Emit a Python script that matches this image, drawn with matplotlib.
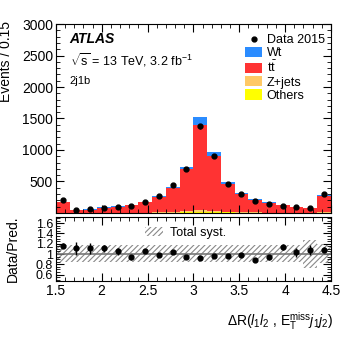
import numpy as np
import matplotlib
matplotlib.use("Agg")
import matplotlib.pyplot as plt
from matplotlib.ticker import MultipleLocator, FormatStrFormatter, FixedLocator
from matplotlib.patches import Patch
from matplotlib.lines import Line2D

plt.rcParams['font.family'] = ['Liberation Sans', 'DejaVu Sans']
plt.rcParams['mathtext.fontset'] = 'custom'
plt.rcParams['mathtext.rm'] = 'Liberation Sans'
plt.rcParams['mathtext.it'] = 'Liberation Sans:italic'
plt.rcParams['mathtext.bf'] = 'Liberation Sans:bold'
plt.rcParams['hatch.color'] = '#888888'
plt.rcParams['hatch.linewidth'] = 0.8

# ---- data ----
bin_edges = [1.5, 1.65, 1.8, 1.95, 2.1, 2.25, 2.4, 2.55, 2.7, 2.85, 3.0,
             3.15, 3.3, 3.45, 3.6, 3.75, 3.9, 4.05, 4.2, 4.35, 4.5]
others = [2, 1, 1, 1, 1, 2, 2, 3, 5, 10, 20, 15, 7, 4, 3, 2, 2, 1, 1, 3]
zjets = [3, 1, 1, 1, 2, 2, 3, 5, 8, 15, 30, 20, 10, 5, 4, 3, 2, 2, 2, 4]
ttbar = [160, 43, 48, 80, 93, 116, 160, 250, 385, 675, 1350, 870, 445, 291, 198, 153, 114, 84, 70, 258]
wt = [15, 5, 5, 8, 9, 10, 10, 12, 12, 35, 120, 58, 35, 17, 17, 12, 12, 8, 7, 25]
data = [205, 50, 60, 80, 90, 115, 180, 260, 435, 690, 1375, 910, 460, 300, 195, 143, 115, 93, 80, 300]

ratio = [1.16, 1.11, 1.11, 1.11, 1.05, 0.94, 1.06, 0.99, 1.04, 0.95,
         0.92, 0.97, 0.96, 0.98, 0.89, 0.94, 1.13, 1.03, 1.08, 1.08]
ratio_err = [0.05, 0.12, 0.10, 0.07, 0.07, 0.05, 0.04, 0.03, 0.02, 0.02,
             0.02, 0.02, 0.02, 0.03, 0.04, 0.05, 0.06, 0.08, 0.10, 0.05]
syst_up = [0.18, 0.18, 0.18, 0.18, 0.18, 0.18, 0.18, 0.18, 0.18, 0.18,
           0.18, 0.18, 0.18, 0.18, 0.18, 0.18, 0.18, 0.18, 0.28, 0.20]
syst_dn = [0.16, 0.16, 0.16, 0.16, 0.16, 0.16, 0.16, 0.16, 0.16, 0.16,
           0.16, 0.16, 0.16, 0.16, 0.16, 0.16, 0.16, 0.16, 0.27, 0.18]

edges = np.array(bin_edges)
centers = 0.5 * (edges[:-1] + edges[1:])
widths = np.diff(edges)

fig = plt.figure(figsize=(3.49, 3.40), dpi=100)
ax = fig.add_axes([0.160, 0.374, 0.788, 0.555])
rax = fig.add_axes([0.160, 0.174, 0.788, 0.188])

comps = [("Others", others, "#ffff00"), ("Z+jets", zjets, "#ffc966"),
         ("tt", ttbar, "#ff3333"), ("Wt", wt, "#2b8cff")]
bottom = np.zeros(len(centers))
handles = {}
for name, vals, col in comps:
    vals = np.array(vals, float)
    ax.bar(centers, vals, width=widths, bottom=bottom, color=col, linewidth=0, align='center')
    bottom += vals
    handles[name] = Patch(facecolor=col, edgecolor='none')

d = np.array(data, float)
ax.errorbar(centers, d, yerr=np.sqrt(d), fmt='o', color='black', ms=3.5, elinewidth=1, capsize=0)

ax.set_xlim(1.5, 4.5)
ax.set_ylim(0, 3000)
ax.yaxis.set_major_locator(FixedLocator([500, 1000, 1500, 2000, 2500, 3000]))
ax.yaxis.set_minor_locator(MultipleLocator(100))
ax.xaxis.set_major_locator(MultipleLocator(0.5))
ax.xaxis.set_minor_locator(MultipleLocator(0.1))
ax.tick_params(axis='x', labelbottom=False)
for a in (ax, rax):
    a.tick_params(which='both', direction='in', top=True, right=True, labelsize=10, pad=2)
    a.tick_params(which='major', length=6)
    a.tick_params(which='minor', length=3)
ax.set_ylabel("Events / 0.15", fontsize=10, labelpad=1)
ax.yaxis.set_label_coords(-0.155, 0.80)

ax.text(0.05, 0.92, "ATLAS", transform=ax.transAxes, fontsize=10, fontweight='bold',
        fontstyle='italic', va='center')
ax.text(0.05, 0.81, r"$\sqrt{\mathrm{s}}$ = 13 TeV, 3.2 fb$^{-1}$", transform=ax.transAxes,
        fontsize=9, va='center')
ax.text(0.05, 0.70, "2j1b", transform=ax.transAxes, fontsize=8, va='center')

data_handle = Line2D([], [], marker='o', color='black', ms=3.5, lw=0)
leg_h = [data_handle, handles["Wt"], handles["tt"], handles["Z+jets"], handles["Others"]]
leg_l = ["Data 2015", "Wt", r"t$\bar{\mathrm{t}}$", "Z+jets", "Others"]
ax.legend(leg_h, leg_l, loc='upper right', bbox_to_anchor=(1.01, 0.995), frameon=False, fontsize=9,
          handlelength=1.4, handleheight=0.9, labelspacing=0.05, borderpad=0.2, handletextpad=0.35)

# ratio panel
up = 1 + np.array(syst_up)
dn = 1 - np.array(syst_dn)
rax.fill_between(edges, np.append(up, up[-1]), np.append(dn, dn[-1]), step='post',
                 facecolor='none', edgecolor='#888888', hatch='//////', linewidth=0)
rax.axhline(1.0, color='#777777', lw=1.2)
rax.errorbar(centers, ratio, yerr=ratio_err, fmt='o', color='black', ms=3.5, elinewidth=1, capsize=0)
rax.set_xlim(1.5, 4.5)
rax.set_ylim(0.48, 1.72)
rax.yaxis.set_major_locator(FixedLocator([0.6, 0.8, 1.0, 1.2, 1.4, 1.6]))
rax.yaxis.set_minor_locator(MultipleLocator(0.05))
rax.yaxis.set_major_formatter(FormatStrFormatter('%g'))
rax.xaxis.set_major_locator(MultipleLocator(0.5))
rax.xaxis.set_minor_locator(MultipleLocator(0.1))
rax.xaxis.set_major_formatter(FormatStrFormatter('%g'))
rax.tick_params(axis='y', labelsize=9)
rax.tick_params(axis='x', labelsize=10)
rax.set_ylabel("Data/Pred.", fontsize=10, labelpad=1)
rax.yaxis.set_label_coords(-0.13, 0.5)

syst_h = Patch(facecolor='none', edgecolor='#888888', hatch='//////', linewidth=0)
rax.legend([syst_h], ["Total syst."], loc='upper center', bbox_to_anchor=(0.47, 1.02), frameon=False,
           fontsize=9, handlelength=1.5, handleheight=0.8, handletextpad=0.5)

fig.text(0.955, 0.055, r"$\Delta$R($l_{1}l_{2}$ , E$_{\mathrm{T}}^{\mathrm{miss}}$$j_{1}j_{2}$)",
         ha='right', va='center', fontsize=10)

fig.savefig("out.png", dpi=100)
